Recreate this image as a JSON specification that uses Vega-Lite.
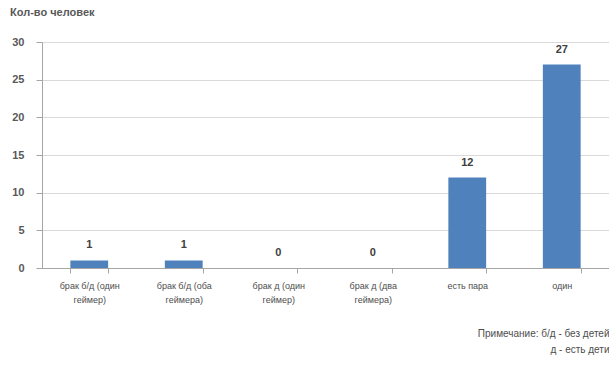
{
  "$schema": "https://vega.github.io/schema/vega-lite/v6.json",
  "autosize": "none",
  "width": 567,
  "height": 226,
  "padding": {"left": 42, "top": 42, "right": 0, "bottom": 99},
  "background": "white",
  "title": {
    "text": "Кол-во человек",
    "anchor": "start",
    "frame": "group",
    "dx": -32,
    "offset": 18,
    "font": "Liberation Sans",
    "fontSize": 11,
    "fontWeight": "bold",
    "color": "#595959"
  },
  "config": {
    "view": {"stroke": null},
    "font": "Liberation Sans"
  },
  "data": {
    "values": [
      {"category": "брак б/д (один геймер)", "count": 1},
      {"category": "брак б/д (оба геймера)", "count": 1},
      {"category": "брак д (один геймер)", "count": 0},
      {"category": "брак д (два геймера)", "count": 0},
      {"category": "есть пара", "count": 12},
      {"category": "один", "count": 27}
    ]
  },
  "encoding": {
    "x": {
      "field": "category",
      "type": "nominal",
      "sort": null,
      "scale": {"paddingInner": 0.6, "paddingOuter": 0.3},
      "axis": {
        "title": ["Примечание: б/д - без детей", "д - есть дети"],
        "titleAnchor": "end",
        "titleAlign": "right",
        "titleBaseline": "top",
        "titleX": 567,
        "titleY": 60,
        "titleFont": "Liberation Sans",
        "titleFontSize": 10,
        "titleFontWeight": "normal",
        "titleColor": "#4d4d4d",
        "titleLineHeight": 16,
        "labelAngle": 0,
        "labelFontSize": 9,
        "labelColor": "#4d4d4d",
        "labelPadding": 8,
        "labelLineHeight": 14,
        "labelExpr": "indexof(datum.label, '(') >= 0 ? [slice(datum.label, 0, lastindexof(datum.label, ' ')), slice(datum.label, lastindexof(datum.label, ' ') + 1)] : datum.label",
        "tickBand": "extent",
        "tickSize": 5,
        "tickColor": "#a6a6a6",
        "domainColor": "#a6a6a6",
        "grid": false
      }
    },
    "y": {
      "field": "count",
      "type": "quantitative",
      "scale": {"domain": [0, 30], "nice": false},
      "axis": {
        "title": null,
        "values": [0, 5, 10, 15, 20, 25, 30],
        "labelFontSize": 11,
        "labelFontWeight": "bold",
        "labelColor": "#595959",
        "labelPadding": 12,
        "tickSize": 6,
        "tickColor": "#a6a6a6",
        "domainColor": "#a6a6a6",
        "gridColor": "#d9d9d9"
      }
    }
  },
  "layer": [
    {"mark": {"type": "bar", "color": "#4f81bd"}},
    {
      "mark": {
        "type": "text",
        "baseline": "bottom",
        "dy": -10,
        "fontSize": 11,
        "fontWeight": "bold",
        "color": "#404040"
      },
      "encoding": {"text": {"field": "count", "type": "quantitative"}}
    }
  ]
}
